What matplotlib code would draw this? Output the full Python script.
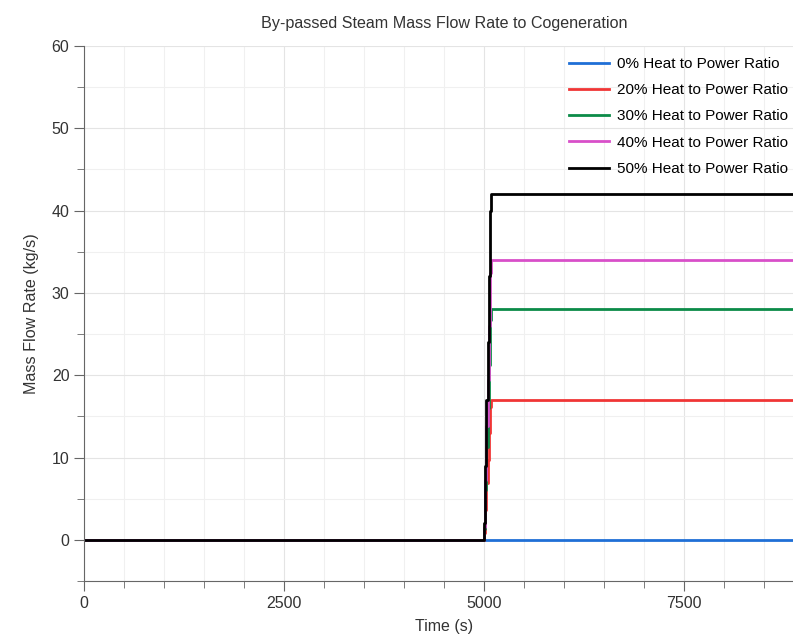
import numpy as np
import matplotlib.pyplot as plt
from matplotlib.ticker import MultipleLocator

plt.rcParams['font.family'] = ['Liberation Sans', 'DejaVu Sans']

# time samples (s) - step ramp around 5000 s
times = [0, 5000, 5015, 5030, 5045, 5060, 5075, 5090, 9000]

# by-passed steam mass flow (kg/s) per heat to power ratio
flow_0 = [0, 0, 0, 0, 0, 0, 0, 0, 0]
flow_20 = [0, 0.8, 3.6, 6.9, 9.7, 13.0, 16.2, 17.0, 17.0]
flow_30 = [0, 1.3, 6.0, 11.3, 16.0, 21.3, 26.7, 28.0, 28.0]
flow_40 = [0, 1.6, 7.3, 13.8, 19.4, 26.0, 32.4, 34.0, 34.0]
flow_50 = [0, 2.0, 9.0, 17.0, 24.0, 32.0, 40.0, 42.0, 42.0]

labels = ['0% Heat to Power Ratio', '20% Heat to Power Ratio', '30% Heat to Power Ratio',
          '40% Heat to Power Ratio', '50% Heat to Power Ratio']
colors = ['#1f6fd6', '#f03535', '#0b8b48', '#d84fc9', '#000000']

fig = plt.figure(figsize=(7.93, 6.35), dpi=100)
# the axes run a little past the right edge of the picture
ax = fig.add_axes([0.106, 0.085, 0.908, 0.8425])

for y, lab, c in zip([flow_0, flow_20, flow_30, flow_40, flow_50], labels, colors):
    ax.plot(times, y, drawstyle='steps-post', color=c, lw=2, label=lab)

ax.set_xlim(0, 9000)
ax.set_ylim(-5, 60)
ax.xaxis.set_major_locator(MultipleLocator(2500))
ax.xaxis.set_minor_locator(MultipleLocator(500))
ax.yaxis.set_major_locator(MultipleLocator(10))
ax.yaxis.set_minor_locator(MultipleLocator(5))

ax.grid(which='major', color='#e4e4e4', lw=0.8)
ax.grid(which='minor', color='#f0f0f0', lw=0.8)
ax.set_axisbelow(True)

for s in ['top', 'right']:
    ax.spines[s].set_visible(False)
for s in ['left', 'bottom']:
    ax.spines[s].set_color('#666666')

ax.tick_params(which='major', length=7, color='#666666', labelsize=11.5, labelcolor='#333333')
ax.tick_params(which='minor', length=5, color='#666666')

ax.set_title('By-passed Steam Mass Flow Rate to Cogeneration', fontsize=11.6, color='#333333', pad=13)
ax.set_xlabel('Time (s)', fontsize=11.5, color='#333333', labelpad=6)
ax.set_ylabel('Mass Flow Rate (kg/s)', fontsize=11.6, color='#333333', labelpad=9)

leg = ax.legend(loc='upper right', bbox_to_anchor=(793 / 804, 0.991), frameon=False, fontsize=11,
                handlelength=2.6, labelspacing=0.8, borderaxespad=0.0, handletextpad=0.55)

fig.savefig('out.png', dpi=100)
